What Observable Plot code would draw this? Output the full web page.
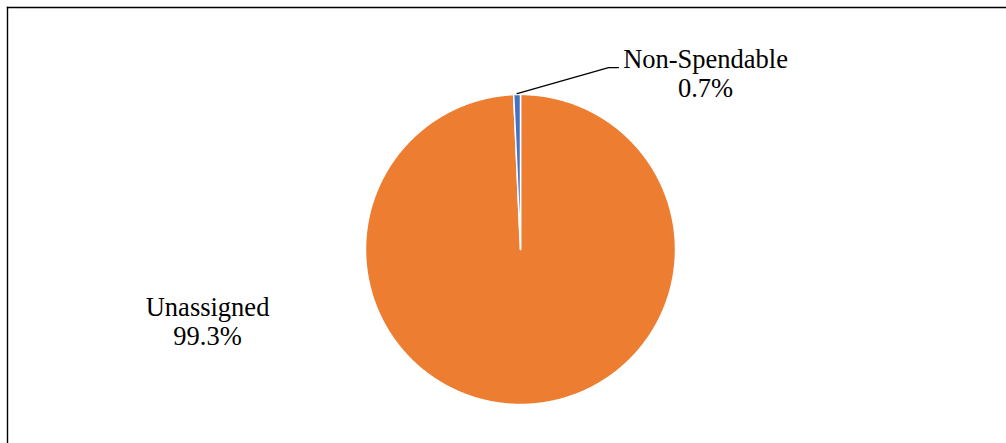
<!DOCTYPE html>
<html><head><meta charset="utf-8">
<script src="https://cdn.jsdelivr.net/npm/d3@7"></script>
<script src="https://cdn.jsdelivr.net/npm/@observablehq/plot@0.6"></script>
<style>body{margin:0;background:#fff}svg{display:block}svg text{font-family:"Liberation Serif","Times New Roman",serif !important}</style>
</head><body><div id="chart"></div>
<script>
const categories = ["Unassigned", "Non-Spendable"];
const values = [99.3, 0.7];
const colors = ["#ED7D31", "#4472C4"];
const labels = ["Unassigned\n99.3%", "Non-Spendable\n0.7%"];

const rows = categories.map((c, i) => ({category: c, value: values[i], label: labels[i]}));
const arcs = d3.pie().sort(null).value(d => d.value)(rows);

// slice outlines sampled along the arc (angle 0 = 12 o'clock, clockwise)
const pts = [];
for (const s of arcs) {
  const n = Math.max(2, Math.ceil((s.endAngle - s.startAngle) / 0.005));
  pts.push({category: s.data.category, x: 0, y: 0});
  for (let k = 0; k <= n; k++) {
    const a = s.startAngle + (s.endAngle - s.startAngle) * k / n;
    pts.push({category: s.data.category, x: Math.sin(a), y: Math.cos(a)});
  }
}

// label placement (layout, in unit-circle coordinates)
const labelPos = {
  "Unassigned": {x: -2.019, y: -0.619},
  "Non-Spendable": {x: 1.194, y: 0.981}
};
const labelData = rows.map(r => ({...r, ...labelPos[r.category]}));

// leader line for the small slice
const small = arcs[1];
const mid = (small.startAngle + small.endAngle) / 2;
const leader = [
  {x: Math.sin(mid) * 1.006, y: Math.cos(mid) * 1.006},
  {x: 0.568, y: 1.174},
  {x: 0.632, y: 1.174}
];

const chart = Plot.plot({
  width: 1006,
  height: 443,
  marginTop: 7,
  marginLeft: 7,
  marginRight: 0,
  marginBottom: 0,
  x: {domain: [-1, 1], range: [365, 675], axis: null},
  y: {domain: [-1, 1], range: [404, 94], axis: null},
  color: {domain: categories, range: colors},
  style: {background: "white"},
  marks: [
    Plot.frame({anchor: "top", stroke: "black", strokeWidth: 1.4, strokeOpacity: 1}),
    Plot.frame({anchor: "left", stroke: "black", strokeWidth: 1.4, strokeOpacity: 1}),
    Plot.line(pts, {x: "x", y: "y", z: "category", fill: "category", stroke: "white", strokeWidth: 1.5, curve: "linear-closed"}),
    Plot.line(leader, {x: "x", y: "y", stroke: "black", strokeWidth: 1.3}),
    Plot.text(labelData, {x: "x", y: "y", text: "label", fontSize: 26.5, lineHeight: 1.12, lineAnchor: "bottom", textAnchor: "middle", fill: "black", fontFamily: "Liberation Serif"})
  ]
});
document.getElementById("chart").append(chart);
</script>
</body></html>
